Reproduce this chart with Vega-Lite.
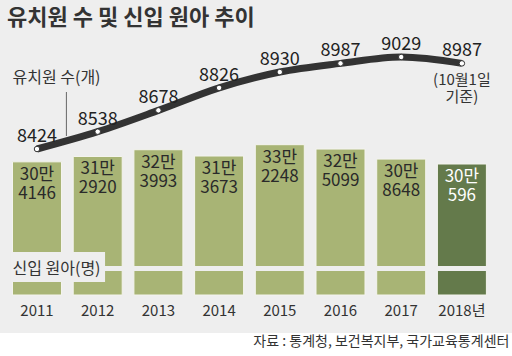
{
  "$schema": "https://vega.github.io/schema/vega-lite/v6.json",
  "width": 512,
  "height": 356,
  "autosize": {"type": "none"},
  "padding": 0,
  "background": "#eeeeee",
  "config": {"view": {"stroke": null}, "font": "Noto Sans CJK KR", "text": {"font": "Noto Sans CJK KR"}},
  "data": {"values": [
    {"year": "2011", "label": "2011", "kinder": 8424, "enroll": 304146, "enrollText": "30만\n4146"},
    {"year": "2012", "label": "2012", "kinder": 8538, "enroll": 312920, "enrollText": "31만\n2920"},
    {"year": "2013", "label": "2013", "kinder": 8678, "enroll": 323993, "enrollText": "32만\n3993"},
    {"year": "2014", "label": "2014", "kinder": 8826, "enroll": 313673, "enrollText": "31만\n3673"},
    {"year": "2015", "label": "2015", "kinder": 8930, "enroll": 332248, "enrollText": "33만\n2248"},
    {"year": "2016", "label": "2016", "kinder": 8987, "enroll": 325099, "enrollText": "32만\n5099"},
    {"year": "2017", "label": "2017", "kinder": 9029, "enroll": 308648, "enrollText": "30만\n8648"},
    {"year": "2018", "label": "2018년", "kinder": 8987, "enroll": 300596, "enrollText": "30만\n596"}
  ]},
  "resolve": {"scale": {"y": "independent"}},
  "layer": [
    {
      "mark": {"type": "bar", "stroke": "#f4f4ee", "strokeWidth": 1},
      "encoding": {
        "x": {"field": "year", "type": "nominal", "axis": null, "scale": {"range": [6.65, 492.25], "paddingInner": 0.193, "paddingOuter": 0.0965}},
        "y": {"field": "enroll", "type": "quantitative", "axis": null, "scale": {"domain": [-14284, 569556], "nice": false, "zero": false}},
        "y2": {"datum": 85756},
        "color": {"condition": {"test": "datum.year === '2018'", "value": "#647a4b"}, "value": "#a8b475"}
      }
    },
    {
      "data": {"values": [{}]},
      "mark": {"type": "rect", "fill": "#eeeeee"},
      "encoding": {
        "y": {"datum": 266, "type": "quantitative", "axis": null, "scale": {"domain": [0, 356], "reverse": true, "nice": false, "zero": false}},
        "y2": {"datum": 271}
      }
    },
    {
      "data": {"values": [{}]},
      "mark": {"type": "rect", "fill": "#eeeeee"},
      "encoding": {
        "x": {"datum": "2011", "type": "nominal", "bandPosition": -0.05, "axis": null},
        "x2": {"datum": "2012", "bandPosition": 0.65},
        "y": {"datum": 252, "type": "quantitative", "axis": null, "scale": {"domain": [0, 356], "reverse": true, "nice": false, "zero": false}},
        "y2": {"datum": 282}
      }
    },
    {
      "mark": {"type": "line", "interpolate": "monotone", "color": "#333333", "strokeWidth": 7},
      "encoding": {
        "x": {"field": "year", "type": "nominal", "axis": null},
        "y": {"field": "kinder", "type": "quantitative", "axis": null, "scale": {"domain": [7062.8, 9403.8], "nice": false, "zero": false}}
      }
    },
    {
      "mark": {"type": "point", "filled": true, "fill": "#ffffff", "stroke": "#333333", "strokeWidth": 1, "size": 30, "opacity": 1},
      "encoding": {
        "x": {"field": "year", "type": "nominal", "axis": null},
        "y": {"field": "kinder", "type": "quantitative", "axis": null, "scale": {"domain": [7062.8, 9403.8], "nice": false, "zero": false}}
      }
    },
    {
      "mark": {"type": "text", "fontSize": 18, "color": "#222222", "baseline": "alphabetic", "dy": -7},
      "encoding": {
        "x": {"field": "year", "type": "nominal", "axis": null},
        "y": {"field": "kinder", "type": "quantitative", "axis": null, "scale": {"domain": [7062.8, 9403.8], "nice": false, "zero": false}},
        "text": {"field": "kinder", "type": "quantitative", "format": "d"}
      }
    },
    {
      "mark": {"type": "text", "fontSize": 17, "lineHeight": 19, "lineBreak": "\n", "baseline": "top", "dy": 5},
      "encoding": {
        "x": {"field": "year", "type": "nominal", "axis": null},
        "y": {"field": "enroll", "type": "quantitative", "axis": null, "scale": {"domain": [-14284, 569556], "nice": false, "zero": false}},
        "text": {"field": "enrollText"},
        "color": {"condition": {"test": "datum.year === '2018'", "value": "#ffffff"}, "value": "#2a2a2a"}
      }
    },
    {
      "mark": {"type": "text", "fontSize": 15, "color": "#333333", "baseline": "middle"},
      "encoding": {
        "x": {"field": "year", "type": "nominal", "axis": null},
        "y": {"datum": 311, "type": "quantitative", "axis": null, "scale": {"domain": [0, 356], "reverse": true, "nice": false, "zero": false}},
        "text": {"field": "label"}
      }
    },
    {
      "data": {"values": [{}]},
      "mark": {"type": "rect", "fill": "#ffffff"},
      "encoding": {
        "y": {"datum": 333, "type": "quantitative", "axis": null, "scale": {"domain": [0, 356], "reverse": true, "nice": false, "zero": false}},
        "y2": {"datum": 356}
      }
    },
    {
      "data": {"values": [{"t": "자료 : 통계청, 보건복지부, 국가교육통계센터"}]},
      "mark": {"type": "text", "fontSize": 14, "color": "#333333", "align": "right", "baseline": "middle", "dx": 23},
      "encoding": {
        "x": {"datum": "2018", "type": "nominal", "bandPosition": 1, "axis": null},
        "y": {"datum": 342, "type": "quantitative", "axis": null, "scale": {"domain": [0, 356], "reverse": true, "nice": false, "zero": false}},
        "text": {"field": "t"}
      }
    },
    {
      "data": {"values": [{"t": "유치원 수 및 신입 원아 추이"}]},
      "mark": {"type": "text", "fontSize": 22, "fontWeight": "bold", "color": "#333333", "align": "left", "baseline": "middle", "dx": -5.5},
      "encoding": {
        "x": {"datum": "2011", "type": "nominal", "bandPosition": 0, "axis": null},
        "y": {"datum": 18, "type": "quantitative", "axis": null, "scale": {"domain": [0, 356], "reverse": true, "nice": false, "zero": false}},
        "text": {"field": "t"}
      }
    },
    {
      "data": {"values": [{"t": "유치원 수(개)"}]},
      "mark": {"type": "text", "fontSize": 16, "color": "#333333", "align": "left", "baseline": "middle"},
      "encoding": {
        "x": {"datum": "2011", "type": "nominal", "bandPosition": 0, "axis": null},
        "y": {"datum": 78, "type": "quantitative", "axis": null, "scale": {"domain": [0, 356], "reverse": true, "nice": false, "zero": false}},
        "text": {"field": "t"}
      }
    },
    {
      "data": {"values": [{}]},
      "mark": {"type": "rule", "color": "#666666", "strokeWidth": 1},
      "encoding": {
        "x": {"datum": "2011", "type": "nominal", "bandPosition": 1.1, "axis": null},
        "y": {"datum": 92, "type": "quantitative", "axis": null, "scale": {"domain": [0, 356], "reverse": true, "nice": false, "zero": false}},
        "y2": {"datum": 136}
      }
    },
    {
      "data": {"values": [{"t": "(10월1일\n기준)"}]},
      "mark": {"type": "text", "fontSize": 15, "lineHeight": 17, "lineBreak": "\n", "color": "#333333", "baseline": "top"},
      "encoding": {
        "x": {"datum": "2018", "type": "nominal", "axis": null},
        "y": {"datum": 73, "type": "quantitative", "axis": null, "scale": {"domain": [0, 356], "reverse": true, "nice": false, "zero": false}},
        "text": {"field": "t"}
      }
    },
    {
      "data": {"values": [{"t": "신입 원아(명)"}]},
      "mark": {"type": "text", "fontSize": 16, "color": "#333333", "align": "left", "baseline": "middle"},
      "encoding": {
        "x": {"datum": "2011", "type": "nominal", "bandPosition": 0, "axis": null},
        "y": {"datum": 269, "type": "quantitative", "axis": null, "scale": {"domain": [0, 356], "reverse": true, "nice": false, "zero": false}},
        "text": {"field": "t"}
      }
    }
  ]
}
